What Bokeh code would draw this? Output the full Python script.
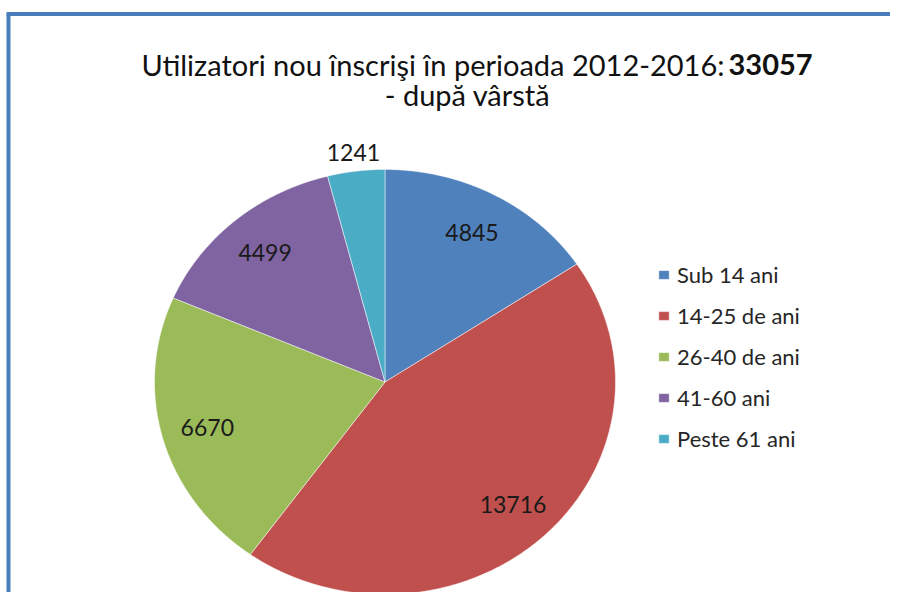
import numpy as np
from bokeh.plotting import figure
from bokeh.models import ColumnDataSource, Range1d, Legend, LegendItem
from bokeh.core.properties import value
from bokeh.embed import file_html
from bokeh.resources import INLINE

# ---- data ----
categories = ["Sub 14 ani", "14-25 de ani", "26-40 de ani", "41-60 ani", "Peste 61 ani"]
counts = [4845, 13716, 6670, 4499, 1241]
colors = ["#4F81BD", "#C0504D", "#9BBB59", "#8064A2", "#4BACC6"]
title_main = "Utilizatori nou înscrişi în perioada 2012-2016:"
title_total = "33057"
title_sub = "- după vârstă"

FONT = "Lato"
W, H = 890, 592
p = figure(width=W, height=H, x_range=Range1d(0, W), y_range=Range1d(0, H),
           output_backend="svg", toolbar_location=None, min_border=0)
p.axis.visible = False
p.grid.visible = False
p.outline_line_color = None
p.background_fill_color = "white"
p.border_fill_color = "white"

# frame border (left and top edges visible)
p.segment(x0=[8, 6], y0=[0, 578.5], x1=[8, 890], y1=[578.5, 578.5],
          line_color="#4A7EBB", line_width=4)

# ---- pie (elliptical) ----
cx, cy, rx, ry = 384.5, 210.5, 230.5, 212.5
vals = np.array(counts, dtype=float)
frac = vals / vals.sum()
ends = np.cumsum(frac) * 2 * np.pi
starts = ends - frac * 2 * np.pi
xs, ys = [], []
for a0, a1 in zip(starts, ends):
    t = np.linspace(a0, a1, 200)
    xs.append(np.concatenate([[cx], cx + rx * np.sin(t)]).tolist())
    ys.append(np.concatenate([[cy], cy + ry * np.cos(t)]).tolist())
src = ColumnDataSource(dict(xs=xs, ys=ys, color=colors, cat=categories))
pie = p.patches("xs", "ys", source=src, fill_color="color", line_color="white", line_width=0.5)

# ---- data labels ----
mid = (starts + ends) / 2
rf = np.where(frac < 0.05, 1.09, 0.8)
lx = cx + rf * rx * np.sin(mid)
ly = cy + rf * ry * np.cos(mid)
p.text(x=lx, y=ly, text=[str(c) for c in counts], text_align="center",
       text_baseline="middle", text_font=value(FONT), text_font_size="23px",
       text_color="#1a1a1a")

# ---- title ----
split_x = 724
p.text(x=[split_x], y=[528], text=[title_main], text_align="right",
       text_baseline="alphabetic", text_font=value(FONT), text_font_size="29px",
       text_color="#111111")
p.text(x=[split_x + 4], y=[528], text=[title_total], text_align="left",
       text_baseline="alphabetic", text_font=value(FONT), text_font_size="29px",
       text_font_style="bold", text_color="#111111")
p.text(x=[467], y=[498], text=[title_sub], text_align="center",
       text_baseline="alphabetic", text_font=value(FONT), text_font_size="29px",
       text_color="#111111")

# ---- legend ----
items = [LegendItem(label=c, renderers=[pie], index=i) for i, c in enumerate(categories)]
legend = Legend(items=items, location=(657, 140), padding=0, spacing=14,
                label_height=20, glyph_height=11, glyph_width=13, label_standoff=7,
                label_text_font=FONT, label_text_font_size="22px",
                label_text_color="#262626", border_line_color=None,
                background_fill_alpha=0, margin=0)
p.add_layout(legend)

open("out.html", "w").write(file_html(p, INLINE))
